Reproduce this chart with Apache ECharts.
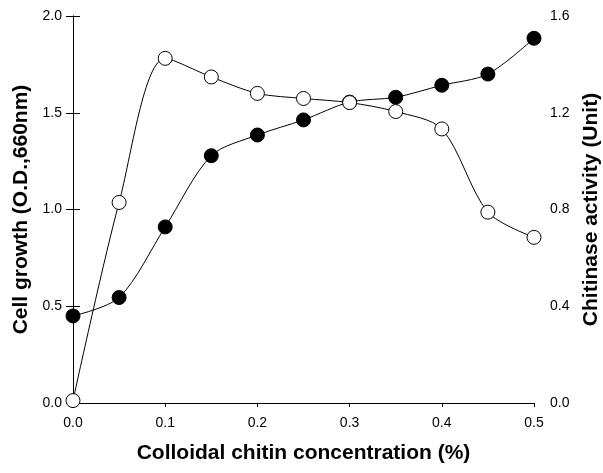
<!DOCTYPE html>
<html>
<head>
<meta charset="utf-8">
<script src="https://cdn.jsdelivr.net/npm/echarts@6/dist/echarts.min.js"></script>
<style>
    html, body { margin: 0; padding: 0; background: #fff; }
    #chart { width: 603px; height: 473px; }
</style>
</head>
<body>
<div id="chart"></div>
<script>
// colloidal chitin concentration (%)
let concentration = [0.0, 0.05, 0.1, 0.15, 0.2, 0.25, 0.3, 0.35, 0.4, 0.45, 0.5];
// cell growth, O.D. 660nm (filled circles, left axis)
let cellGrowth = [0.45, 0.545, 0.91, 1.278, 1.385, 1.463, 1.555, 1.58, 1.642, 1.70, 1.885];
// chitinase activity, Unit (open circles, right axis)
let chitinase = [0.01, 0.829, 1.425, 1.348, 1.28, 1.259, 1.242, 1.205, 1.133, 0.789, 0.685];

function pairs(xs, ys) {
    return xs.map(function (x, i) {
        return [x, ys[i]];
    });
}

function oneDecimal(v) {
    return v.toFixed(1);
}

let chartDom = document.getElementById('chart');
let myChart = echarts.init(chartDom);
let axisText = {
    color: '#000',
    fontSize: 14,
    fontFamily: 'Liberation Sans',
    formatter: oneDecimal
};
let nameText = {
    color: '#000',
    fontSize: 21,
    fontWeight: 'bold',
    fontFamily: 'Liberation Sans'
};
let option = {
    animation: false,
    backgroundColor: '#fff',
    grid: {
        left: 73,
        right: 69,
        top: 16,
        bottom: 70,
        containLabel: false,
        outerBoundsMode: 'none'
    },
    xAxis: [
        {
            type: 'value',
            min: 0,
            max: 0.5,
            interval: 0.1,
            name: 'Colloidal chitin concentration (%)',
            nameLocation: 'middle',
            nameGap: 40,
            nameTextStyle: nameText,
            axisLine: {lineStyle: {color: '#000', width: 1}},
            axisTick: {show: true, length: 4, lineStyle: {color: '#000'}},
            axisLabel: Object.assign({margin: 13}, axisText),
            splitLine: {show: false}
        },
        {
            type: 'value',
            position: 'top',
            min: 0,
            max: 0.5,
            axisLine: {show: true, lineStyle: {color: '#000', width: 1}},
            axisTick: {show: false},
            axisLabel: {show: false},
            splitLine: {show: false}
        }
    ],
    yAxis: [
        {
            type: 'value',
            min: 0,
            max: 2,
            interval: 0.5,
            name: 'Cell growth (O.D.,660nm)',
            nameLocation: 'middle',
            nameGap: 39,
            nameTextStyle: nameText,
            axisLine: {show: true, lineStyle: {color: '#000', width: 1}},
            axisTick: {show: true, length: 7, lineStyle: {color: '#000'}},
            axisLabel: Object.assign({margin: 11}, axisText),
            splitLine: {show: false}
        },
        {
            type: 'value',
            position: 'right',
            min: 0,
            max: 1.6,
            interval: 0.4,
            name: 'Chitinase activity (Unit)',
            nameLocation: 'middle',
            nameGap: 45,
            nameTextStyle: nameText,
            axisLine: {show: true, lineStyle: {color: '#000', width: 1}},
            axisTick: {show: true, length: 7, lineStyle: {color: '#000'}},
            axisLabel: Object.assign({margin: 16}, axisText),
            splitLine: {show: false}
        }
    ],
    series: [
        {
            name: 'Cell growth',
            type: 'line',
            yAxisIndex: 0,
            smooth: 0.3,
            symbol: 'circle',
            symbolSize: 14,
            lineStyle: {color: '#000', width: 1},
            itemStyle: {color: '#000', borderColor: '#000', borderWidth: 1},
            data: pairs(concentration, cellGrowth),
            z: 2
        },
        {
            name: 'Chitinase activity',
            type: 'line',
            yAxisIndex: 1,
            smooth: 0.3,
            symbol: 'circle',
            symbolSize: 14,
            lineStyle: {color: '#000', width: 1},
            itemStyle: {color: '#fff', borderColor: '#000', borderWidth: 1},
            data: pairs(concentration, chitinase),
            z: 3
        }
    ]
};
option && myChart.setOption(option);
</script>
</body>
</html>
